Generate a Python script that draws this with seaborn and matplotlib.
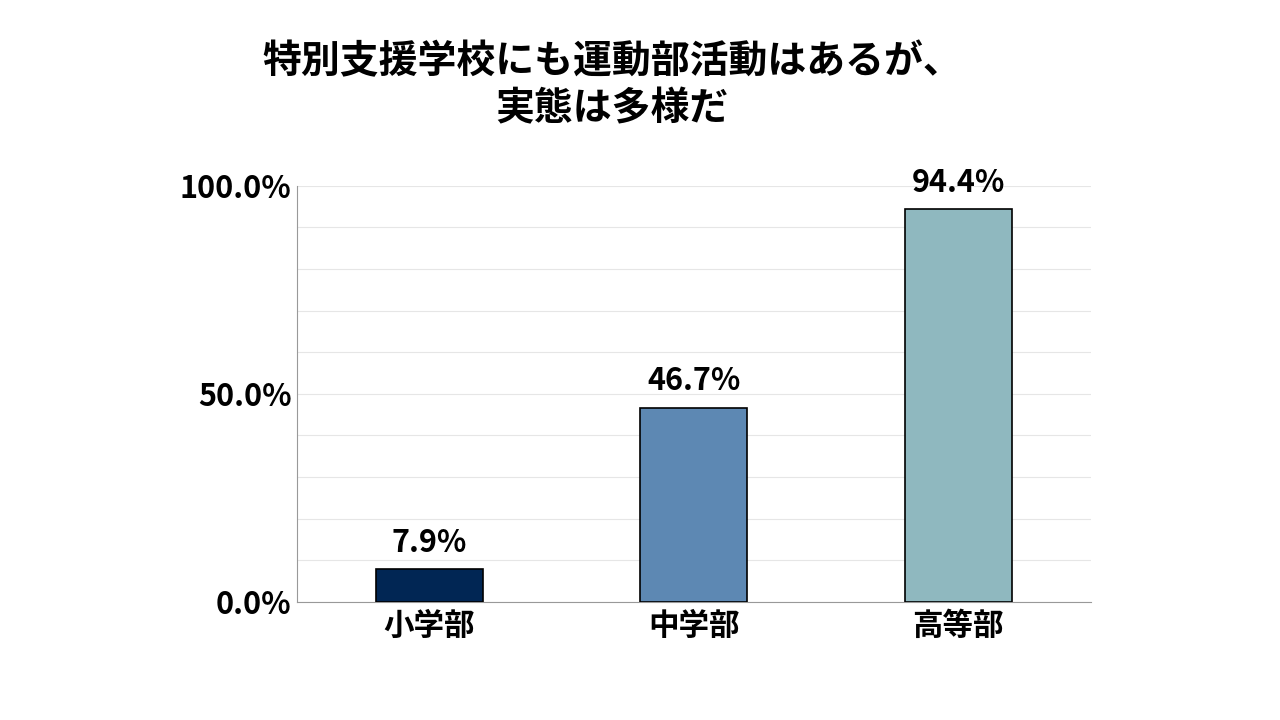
import matplotlib
matplotlib.use("Agg")
import matplotlib.pyplot as plt
import seaborn as sns
import pandas as pd
from matplotlib.ticker import MultipleLocator, FixedLocator

categories = ["小学部", "中学部", "高等部"]
values = [7.9, 46.7, 94.4]
colors = ["#012654", "#5d88b3", "#8fb8bf"]
title = "特別支援学校にも運動部活動はあるが、\n実態は多様だ"

sns.set_style("white")
plt.rcParams["font.family"] = ["Noto Sans CJK JP", "DejaVu Sans"]
plt.rcParams["text.color"] = "black"
plt.rcParams["xtick.color"] = "black"
plt.rcParams["ytick.color"] = "black"

df = pd.DataFrame({"cat": categories, "val": values})

fig = plt.figure(figsize=(12.8, 7.2), dpi=100)
ax = fig.add_axes([0.232, 0.164, 0.62, 0.578])

sns.barplot(data=df, x="cat", y="val", hue="cat", palette=colors, legend=False,
            saturation=1, width=0.405, edgecolor="black", linewidth=1.2, ax=ax, zorder=3)

ax.set_ylim(0, 100)
ax.set_xlim(-0.5, 2.5)
ax.yaxis.set_major_locator(FixedLocator([0, 50, 100]))
ax.yaxis.set_minor_locator(MultipleLocator(10))
ax.grid(True, which="both", axis="y", color="#e6e6e6", linewidth=0.8, zorder=0)
ax.set_yticklabels(["0.0%", "50.0%", "100.0%"], fontsize=22, fontweight="bold")
ax.tick_params(axis="x", labelsize=22, length=0, pad=6, labelcolor="black")
for lbl in ax.get_xticklabels():
    lbl.set_fontweight("bold")
ax.tick_params(axis="y", length=0, pad=4, labelcolor="black")
ax.set_xlabel("")
ax.set_ylabel("")
for s in ["top", "right"]:
    ax.spines[s].set_visible(False)
ax.spines["left"].set_color("#999999")
ax.spines["bottom"].set_color("#999999")

for i, v in enumerate(values):
    ax.text(i, v + 2.5, f"{v:.1f}%", ha="center", va="bottom",
            fontsize=22, fontweight="bold", color="black")

fig.text(0.478, 0.882, title, ha="center", va="center", fontsize=28,
         fontweight="bold", linespacing=1.25, color="black")

fig.savefig("out.png", dpi=100)
